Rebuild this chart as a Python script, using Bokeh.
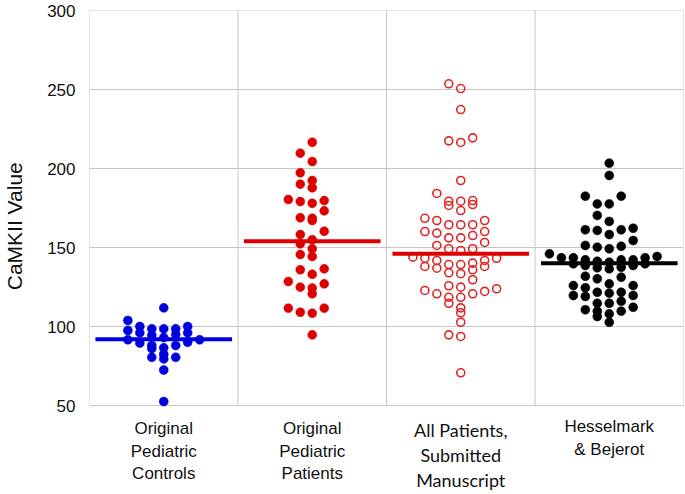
from bokeh.plotting import figure
from bokeh.models import FixedTicker, ColumnDataSource, Range1d
from bokeh.core.properties import value
from bokeh.embed import file_html
from bokeh.resources import INLINE

# ---------------- data ----------------
categories = ["Original\nPediatric\nControls",
              "Original\nPediatric\nPatients",
              "All Patients,\nSubmitted\nManuscript",
              "Hesselmark\n& Bejerot"]

controls = [111.8, 103.8, 98.5, 98.5, 100, 100, 97.5, 98.5, 96, 95, 96, 94.5,
            93, 91.6, 91.6, 90, 88, 86.5, 86, 88, 89.5, 80.5, 79.5, 82.5, 80.5,
            72.5, 52.5]

patients = [216.6, 209.7, 204.4, 197.3, 190.1, 192.4, 187.8, 179.7, 178, 179.1,
            180.4, 173.2, 168.5, 167.1, 168.8, 158.2, 160.3, 154.9, 152.3, 149.2,
            144.3, 145.6, 136.5, 133.1, 135.9, 128.5, 124.9, 120.7, 124.3, 127,
            111.6, 109, 108.4, 111.6, 94.7]

all_patients = [253.6, 250.6, 237.3, 217.5, 216.5, 219.4, 192.4, 184.2, 179.3,
                179.7, 176.6, 177.2, 179.3, 173.4, 167.1, 164.4, 164.4, 164.4,
                167.1, 168.5, 160.1, 159.1, 156.1, 153.2, 151.3, 156.1, 157.6,
                160.1, 149.2, 148.1, 149.2, 143.9, 143.2, 141.8, 140.1, 141.8,
                143.2, 139.2, 138, 135.9, 133.4, 129.6, 134, 136.9, 138, 139.2,
                124.9, 122.8, 120.7, 118.5, 118.5, 120.7, 122.2, 123.9, 125.8,
                111.8, 108.7, 114.7, 102.7, 94.7, 93.7, 70.7]

hesselmark = [203.4, 195.6, 182.5, 182.5, 177.6, 177.6, 170.3, 166.5, 160.8,
              162.2, 161.2, 161.2, 158.2, 154.4, 150.8, 151.3, 150.2, 149.2, 146,
              143.5, 143.5, 142.2, 142.2, 142.2, 143.5, 144.3, 139.7, 139.7,
              138.6, 137.5, 136.5, 137.2, 138.6, 140.7, 141.3, 131.2, 130.2,
              131.8, 127, 125.9, 125.9, 124.5, 121.7, 119.6, 119, 119.6, 121.1,
              121.7, 114.7, 114.7, 116, 110.6, 109.7, 112.2, 109.7, 106.3, 108,
              102.7]

means = [92, 154, 146, 140]
y_ticks = [50, 100, 150, 200, 250, 300]

# ---------------- layout ----------------
W, H = 685, 494
LEFT, RIGHT, TOP = 87, 2, 10
PLOT_PX = 395                   # pixel height of the 50..300 value band
frame_w = W - LEFT - RIGHT
frame_h = H - TOP
n_cat = len(categories)
cat_px = frame_w / n_cat
y_lo, y_hi = y_ticks[0], y_ticks[-1]
px_per_unit = PLOT_PX / (y_hi - y_lo)
y_start = y_hi - frame_h / px_per_unit   # frame extends below 50 to hold labels
col_w = 12.0 / cat_px
row_h = 5.5


def swarm(vals):
    """Row-binned dot-plot layout: lowest value of a row in the centre."""
    order = sorted(range(len(vals)), key=lambda i: -vals[i])
    out = [0] * len(vals)
    col_order = [0]
    for k in range(1, 40):
        col_order += [-k, k]
    j = 0
    while j < len(order):
        start = vals[order[j]]
        row = []
        while j < len(order) and vals[order[j]] > start - row_h:
            row.append(order[j])
            j += 1
        row.sort(key=lambda i: vals[i])
        for pos, i in enumerate(row):
            out[i] = col_order[pos]
    return out


p = figure(width=W, height=H, x_range=Range1d(0, n_cat), y_range=Range1d(y_start, y_hi),
           output_backend="svg", toolbar_location=None,
           min_border_left=LEFT, min_border_right=RIGHT, min_border_top=TOP,
           min_border_bottom=0)
grid_col = "#C6C6C6"
p.outline_line_color = None
p.background_fill_color = "white"
p.border_fill_color = "white"
p.xaxis.visible = False
p.grid.visible = False

# grid lines confined to the 50..300 band
bounds = list(range(n_cat + 1))
p.segment(x0=bounds, x1=bounds, y0=[y_lo] * len(bounds), y1=[y_hi] * len(bounds),
          line_color=grid_col, line_width=1)
p.segment(x0=[0] * len(y_ticks), x1=[n_cat] * len(y_ticks), y0=y_ticks, y1=y_ticks,
          line_color=grid_col, line_width=1)

ya = p.yaxis[0]
ya.ticker = FixedTicker(ticks=y_ticks)
ya.axis_line_color = None
ya.major_tick_line_color = None
ya.major_tick_out = 0
ya.major_tick_in = 0
ya.minor_tick_line_color = None
ya.minor_tick_out = 0
ya.major_label_text_font = "Liberation Sans"
ya.major_label_text_font_size = "17px"
ya.major_label_text_color = "#111111"
ya.major_label_standoff = 14
ya.axis_label = "\u00a0" * 9 + "CaMKII Value"
ya.axis_label_text_font = "Liberation Sans"
ya.axis_label_text_font_size = "21px"
ya.axis_label_text_font_style = "normal"
ya.axis_label_text_color = "#111111"
ya.axis_label_standoff = 18

groups = [
    (controls, "#0000DD", True),
    (patients, "#DD0000", True),
    (all_patients, "#E02424", False),
    (hesselmark, "#000000", True),
]

for gi, (vals, color, filled) in enumerate(groups):
    center = gi + 0.5
    offs = swarm(vals)
    xs = [center + c * col_w for c in offs]
    src = ColumnDataSource(dict(x=xs, y=vals))
    if filled:
        p.scatter("x", "y", source=src, size=9, fill_color=color, line_color=color,
                  line_width=0.5)
    else:
        p.scatter("x", "y", source=src, size=8, fill_color=None, line_color=color,
                  line_width=1.6)
    mean_color = "#DD0000" if gi == 2 else color
    p.segment(x0=[center - 0.46], x1=[center + 0.46], y0=[means[gi]], y1=[means[gi]],
              line_color=mean_color, line_width=4)

# ---------------- category labels below the value band ----------------
# (font, size, first-line offset in px below the 50 line, line spacing px)
label_style = [
    ("Liberation Sans", "17px", 23, 22.5),
    ("Liberation Sans", "17px", 23, 22.5),
    ("Lato", "18px", 24, 25),
    ("Liberation Sans", "17px", 21, 23),
]
for gi, text in enumerate(categories):
    font, size, first, step = label_style[gi]
    lines = text.split("\n")
    ys = [y_lo - (first + k * step) / px_per_unit for k in range(len(lines))]
    p.text(x=[gi + 0.5] * len(lines), y=ys, text=lines,
           text_font=value(font), text_font_size=size, text_color="#111111",
           text_align="center", text_baseline="alphabetic")

open("out.html", "w").write(file_html(p, INLINE))
